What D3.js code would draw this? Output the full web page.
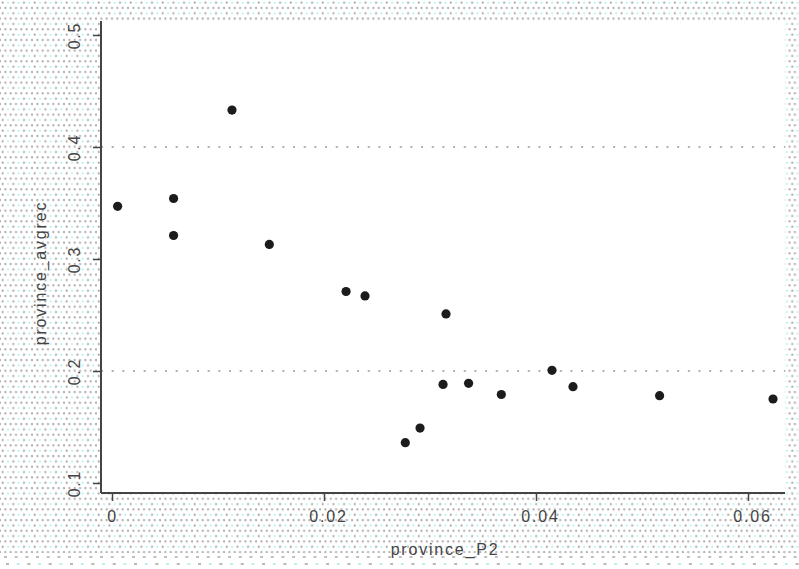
<!DOCTYPE html>
<html>
<head>
<meta charset="utf-8">
<script src="https://cdn.jsdelivr.net/npm/d3@7"></script>
<style>
  body { margin: 0; background: #fff; }
  svg { display: block; }
  .tick-label { font-family: "Liberation Sans", Arial, sans-serif; font-size: 16px; fill: #444; letter-spacing: 1.8px; }
  .axis-title { font-family: "Liberation Sans", Arial, sans-serif; font-size: 16px; fill: #444; letter-spacing: 1.8px; }
</style>
</head>
<body>
<svg id="chart" width="799" height="569"></svg>
<script>
// province_P2 (x) vs province_avgrec (y)
const provinceP2 = [0.00053, 0.00581, 0.00581, 0.01132, 0.01484, 0.02208, 0.02387, 0.03151,
  0.03123, 0.03364, 0.03673, 0.02906, 0.02767, 0.04151, 0.04349, 0.05166, 0.06236];
const provinceAvgrec = [0.347, 0.354, 0.321, 0.433, 0.313, 0.271, 0.267, 0.251,
  0.188, 0.189, 0.179, 0.149, 0.136, 0.2006, 0.186, 0.178, 0.175];
const xTicks = [0, 0.02, 0.04, 0.06];
const yTicks = [0.1, 0.2, 0.3, 0.4, 0.5];
const yGrid = [0.2, 0.4];

const W = 799, H = 569;
const plot = { left: 101, right: 785, top: 21, bottom: 493 };

const svg = d3.select('#chart');

// dotted stata-like backdrop
const defs = svg.append('defs');
const pat = defs.append('pattern')
  .attr('id', 'bgdots')
  .attr('patternUnits', 'userSpaceOnUse')
  .attr('width', 10.67).attr('height', 10.67);
pat.append('circle').attr('cx', 2.67).attr('cy', 2.67).attr('r', 1.1).attr('fill', '#a8a8a8');
pat.append('circle').attr('cx', 8).attr('cy', 2.67).attr('r', 1.1).attr('fill', '#bdf0f0');
[0, 5.33, 10.67].forEach(cx => {
  pat.append('circle').attr('cx', cx).attr('cy', 8).attr('r', 1.1).attr('fill', '#a8a8a8');
});

svg.append('rect').attr('width', W).attr('height', H).attr('fill', '#fff');
svg.append('rect').attr('width', W).attr('height', 553).attr('fill', 'url(#bgdots)');

// bottom band, lighter dash rows
const band = svg.append('g').attr('class', 'band');
d3.range(4, W, 10.67).forEach((bx, i) => {
  band.append('rect').attr('x', bx).attr('y', 556).attr('width', 3).attr('height', 2).attr('fill', '#c0c0c0');
  band.append('rect').attr('x', bx + 2).attr('y', 563).attr('width', 3).attr('height', 2)
    .attr('fill', i % 2 ? '#bdf0f0' : '#b8b8b8');
});

svg.append('rect')
  .attr('x', plot.left).attr('y', plot.top)
  .attr('width', plot.right - plot.left).attr('height', plot.bottom - plot.top)
  .attr('fill', '#fff');

const x = d3.scaleLinear().domain([0, 0.06]).range([112, 748]);
const y = d3.scaleLinear().domain([0.1, 0.5]).range([483, 35]);

// gridlines
svg.append('g')
  .selectAll('line')
  .data(yGrid)
  .join('line')
  .attr('x1', plot.left).attr('x2', plot.right)
  .attr('y1', d => y(d)).attr('y2', d => y(d))
  .attr('stroke', '#b0b0b0')
  .attr('stroke-width', 2)
  .attr('stroke-dasharray', '2,8.67');

// axes
const xAxis = svg.append('g')
  .attr('transform', `translate(0,${plot.bottom})`)
  .call(d3.axisBottom(x).tickValues(xTicks).tickSize(8).tickPadding(6)
    .tickFormat(d => d === 0 ? '0' : d3.format('.2f')(d)));
xAxis.select('.domain').remove();
xAxis.selectAll('.tick line').attr('stroke', '#444').attr('stroke-width', 1.5);
xAxis.selectAll('.tick text')
  .attr('class', 'tick-label')
  .attr('dy', null).attr('y', 29)
  .attr('x', d => d === 0 ? 0 : 4)
  .attr('font-size', null).attr('font-family', null).attr('fill', null);

const yAxis = svg.append('g')
  .attr('transform', `translate(${plot.left},0)`)
  .call(d3.axisLeft(y).tickValues(yTicks).tickSize(8).tickFormat(d3.format('.1f')));
yAxis.select('.domain').remove();
yAxis.selectAll('.tick line').attr('stroke', '#444').attr('stroke-width', 1.5);
yAxis.selectAll('.tick text')
  .attr('class', 'tick-label')
  .attr('x', null).attr('dy', null)
  .attr('transform', 'translate(-21,0) rotate(-90)')
  .attr('text-anchor', 'middle')
  .attr('font-size', null).attr('font-family', null).attr('fill', null);
yAxis.attr('font-size', null).attr('font-family', null);
xAxis.attr('font-size', null).attr('font-family', null);

// axis lines
svg.append('line')
  .attr('x1', plot.left).attr('x2', plot.left)
  .attr('y1', plot.top).attr('y2', plot.bottom)
  .attr('stroke', '#444').attr('stroke-width', 2);
svg.append('line')
  .attr('x1', plot.left).attr('x2', plot.right)
  .attr('y1', plot.bottom).attr('y2', plot.bottom)
  .attr('stroke', '#444').attr('stroke-width', 2);

// points
svg.append('g')
  .selectAll('circle')
  .data(provinceP2.map((v, i) => ({ x: v, y: provinceAvgrec[i] })))
  .join('circle')
  .attr('cx', d => x(d.x))
  .attr('cy', d => y(d.y))
  .attr('r', 4.6)
  .attr('fill', '#1c1c1c');

// titles
svg.append('text')
  .attr('class', 'axis-title')
  .attr('x', (plot.left + plot.right) / 2 + 2)
  .attr('y', 555)
  .attr('text-anchor', 'middle')
  .text('province_P2');

svg.append('text')
  .attr('class', 'axis-title')
  .attr('transform', 'translate(46,273) rotate(-90)')
  .attr('text-anchor', 'middle')
  .text('province_avgrec');
</script>
</body>
</html>
